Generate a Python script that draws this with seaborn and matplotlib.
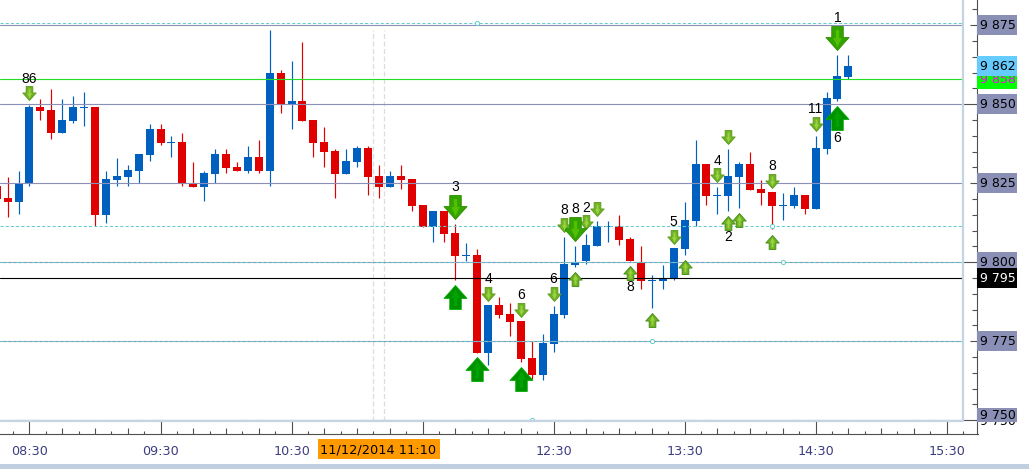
import numpy as np
import pandas as pd
import matplotlib
matplotlib.use("Agg")
import matplotlib.pyplot as plt
import matplotlib.transforms as mtransforms
from matplotlib.patches import Rectangle
from matplotlib.path import Path
import seaborn as sns

# 5 minute candles, index 0 = 08:30
first_index = -3
opens = [9824.1, 9820.3, 9819.1, 9825.1, 9849.1, 9848.2, 9840.9, 9844.7, 9848.8, 9849.1,
         9815.0, 9826.0, 9827.0, 9828.9, 9834.0, 9842.2, 9837.7, 9838.1, 9824.8, 9823.8,
         9827.9, 9834.3, 9830.2, 9828.9, 9833.3, 9828.9, 9859.9, 9850.1, 9851.0, 9845.0,
         9838.1, 9835.2, 9827.9, 9831.7, 9836.2, 9827.3, 9823.8, 9827.3, 9826.4, 9818.1,
         9811.2, 9816.2, 9809.3, 9802.0, 9802.3, 9771.3, 9786.5, 9783.6, 9781.4, 9769.7,
         9764.3, 9774.1, 9783.3, 9799.1, 9800.4, 9805.2, 9811.2, 9811.5, 9807.4, 9800.1,
         9794.1, 9794.1, 9795.0, 9804.2, 9813.1, 9831.1, 9821.0, 9821.0, 9827.0, 9831.1,
         9823.2, 9822.2, 9817.8, 9817.8, 9821.3, 9816.9, 9835.8, 9851.7, 9858.6]
highs = [9826.0, 9827.0, 9828.9, 9849.8, 9851.7, 9854.8, 9851.7, 9852.6, 9853.9, 9849.1,
         9828.9, 9833.0, 9830.8, 9834.3, 9843.8, 9843.8, 9840.0, 9840.9, 9831.7, 9828.9,
         9835.8, 9835.8, 9831.7, 9836.8, 9838.7, 9873.5, 9860.8, 9863.7, 9869.7, 9845.0,
         9842.8, 9835.8, 9835.8, 9836.8, 9836.8, 9830.8, 9828.9, 9830.8, 9826.4, 9818.1,
         9816.2, 9816.2, 9812.1, 9806.1, 9804.2, 9786.5, 9789.0, 9787.1, 9781.4, 9775.1,
         9777.3, 9786.2, 9808.0, 9805.2, 9808.9, 9813.1, 9813.1, 9815.0, 9808.0, 9805.2,
         9796.0, 9799.1, 9804.5, 9819.1, 9838.7, 9831.1, 9823.8, 9835.8, 9831.7, 9834.9,
         9826.0, 9822.2, 9821.9, 9823.8, 9821.3, 9840.0, 9853.9, 9865.6, 9865.6]
lows = [9817.6, 9814.3, 9815.3, 9824.1, 9845.0, 9839.0, 9840.9, 9844.1, 9843.1, 9811.5,
        9812.4, 9824.1, 9824.1, 9825.1, 9832.0, 9837.1, 9833.3, 9824.1, 9823.8, 9819.4,
        9825.1, 9828.3, 9828.9, 9828.3, 9828.3, 9824.1, 9847.2, 9842.2, 9844.7, 9833.3,
        9830.2, 9820.3, 9827.9, 9830.2, 9821.3, 9820.3, 9823.8, 9823.2, 9816.2, 9811.2,
        9806.4, 9806.4, 9794.4, 9800.4, 9771.3, 9767.5, 9782.4, 9776.7, 9768.4, 9763.1,
        9762.7, 9771.6, 9782.4, 9798.5, 9799.5, 9805.2, 9806.4, 9805.5, 9800.4, 9791.5,
        9785.5, 9791.5, 9794.4, 9802.3, 9811.5, 9818.1, 9815.3, 9816.2, 9817.2, 9822.9,
        9818.1, 9810.5, 9813.4, 9817.2, 9815.3, 9816.9, 9834.3, 9851.0, 9858.0]
closes = [9820.0, 9819.1, 9824.9, 9849.1, 9847.9, 9840.9, 9845.0, 9849.1, 9849.1, 9815.0,
          9826.4, 9827.3, 9829.2, 9834.3, 9842.2, 9837.7, 9838.1, 9825.1, 9823.8, 9828.3,
          9834.3, 9829.8, 9828.9, 9833.3, 9828.9, 9859.9, 9850.1, 9851.0, 9844.7, 9837.7,
          9834.9, 9827.9, 9832.0, 9836.2, 9827.0, 9823.8, 9827.3, 9826.0, 9817.8, 9811.2,
          9816.2, 9808.9, 9802.0, 9802.3, 9771.3, 9786.5, 9783.3, 9781.1, 9769.4, 9764.3,
          9774.5, 9783.6, 9799.5, 9800.1, 9805.5, 9811.5, 9811.5, 9807.1, 9800.4, 9794.1,
          9794.4, 9795.0, 9804.5, 9813.4, 9831.1, 9821.0, 9821.3, 9827.3, 9831.1, 9822.9,
          9821.9, 9817.8, 9818.1, 9821.3, 9816.9, 9836.2, 9852.0, 9859.0, 9862.1]

# signal arrows
small_down_idx = [0, 42, 45, 48, 49, 51, 52, 59, 63, 64, 68, 72]
small_down_price = [9853.6, 9790.0, 9784.9, 9790.0, 9811.8, 9812.7, 9816.9, 9808.0, 9827.6, 9839.6, 9825.7, 9843.8]
small_up_idx = [50, 55, 57, 60, 64, 65, 68]
small_up_price = [9794.7, 9796.6, 9781.7, 9798.5, 9812.4, 9813.4, 9806.4]
big_down_idx = [39, 50, 74]
big_down_price = [9817.5, 9810.5, 9871.0]
big_up_idx = [39, 41, 45, 74]
big_up_price = [9789.0, 9766.2, 9763.1, 9845.7]

# counts written next to the arrows
note_idx = [0, 39, 42, 45, 48, 49, 50, 51, 59, 55, 63, 64, 68, 72, 74, 74]
note_price = [9858.0, 9823.8, 9794.7, 9789.6, 9794.6, 9816.4, 9816.8, 9817.3, 9812.7, 9792.1,
              9832.1, 9807.9, 9830.4, 9848.4, 9839.4, 9877.2]
note_text = ["86", "3", "4", "6", "6", "8", "8", "2", "5", "8", "4", "2", "8", "11", "6", "1"]

# levels
grid_levels = [9875, 9850, 9825, 9800, 9775, 9750]
dashed_levels = [9875.8, 9811.4, 9800.2, 9775.2, 9750.2]
dot_idx = [41, 68, 69, 57, 46]
dot_price = [9875.8, 9811.4, 9800.2, 9775.2, 9750.2]
bid_level = 9858
last_level = 9795
cursor_idx = [31.5, 32.5]

hour_ticks = [0, 12, 24, 36, 48, 60, 72, 84]
hour_labels = ["08:30", "09:30", "10:30", "11:30", "12:30", "13:30", "14:30", "15:30"]
hidden_hour = "11:30"
cursor_label = "11/12/2014 11:10"

box_labels = ["9 875", "9 858", "9 862", "9 850", "9 825", "9 800", "9 795", "9 775"]
box_prices = [9875, 9858, 9862, 9850, 9825, 9800, 9795, 9775]
box_faces = ["#8a8fb6", "#00ff00", "#66ccff", "#8a8fb6", "#8a8fb6", "#8a8fb6", "#000000", "#8a8fb6"]
box_texts = ["#000000", "#ff00ff", "#000000", "#000000", "#000000", "#000000", "#ffffff", "#000000"]

BLUE = "#0060c0"
RED = "#e00000"
GRID = "#8a90b8"
TEAL = "#66cccc"
FRAME = "#c6d3e2"
AXIS = "#505050"

sns.set_style("white")
plt.rcParams["font.family"] = ["DejaVu Sans"]

df = pd.DataFrame({"open": opens, "high": highs, "low": lows, "close": closes})
df["i"] = np.arange(len(df)) + first_index
df["up"] = df["close"] >= df["open"]
df["bottom"] = df[["open", "close"]].min(axis=1)
# doji still needs a visible one pixel body
df["body"] = (df["close"] - df["open"]).abs().clip(lower=0.3)

fig = plt.figure(figsize=(10.29, 4.69), dpi=100, facecolor="white")
ax = fig.add_axes([0, 48 / 469, 963 / 1029, 421 / 469])

# vertical cursor lines sit behind everything
for c in cursor_idx:
    ax.axvline(c, ymin=0, ymax=391 / 421, color="#dddddd", lw=0.9, ls=(0, (4, 2)), zorder=1)

# candles
ax.vlines(df["i"], df["low"], df["high"], colors=np.where(df["up"], BLUE, RED), lw=0.85, zorder=2)
for is_up, col in [(True, BLUE), (False, RED)]:
    sub = df[df["up"] == is_up]
    sns.barplot(x=sub["i"].values, y=sub["body"].values, bottom=sub["bottom"].values, color=col,
                saturation=1, native_scale=True, errorbar=None, width=8 / 10.92, linewidth=0,
                ax=ax, zorder=3)

# levels on top of candles
for lv in grid_levels:
    ax.axhline(lv, color=GRID, lw=0.8, zorder=4)
ax.axhline(bid_level, color="#22dd22", lw=0.8, zorder=4)
ax.axhline(last_level, color="black", lw=0.8, zorder=4)
for lv in dashed_levels:
    ax.axhline(lv, color=TEAL, lw=0.75, ls=(0, (3, 2)), zorder=4)
ax.scatter(dot_idx, dot_price, s=9, facecolors="white", edgecolors=TEAL, linewidths=0.7, zorder=4)


def arrow_path(head_w, shaft_w, neck, up=False):
    verts = [(-shaft_w, 1), (shaft_w, 1), (shaft_w, neck), (head_w, neck), (0, -1),
             (-head_w, neck), (-shaft_w, neck), (-shaft_w, 1)]
    verts = np.array(verts, dtype=float)
    if up:
        verts[:, 1] *= -1
    return Path(verts, closed=True)


def draw_arrows(idx, price, height_px, up, face, edge, light):
    s = (height_px * 0.72) ** 2
    sns.scatterplot(x=idx, y=price, marker=arrow_path(0.96, 0.48, 0.08, up), s=s, color=face,
                    edgecolor=edge, linewidth=0.6, ax=ax, zorder=5, legend=False)
    # lighter stripe down the middle of the arrow
    stripe = arrow_path(0.5, 0.2, 0.05, up)
    sns.scatterplot(x=idx, y=price, marker=stripe, s=s * 0.5, color=light, linewidth=0,
                    ax=ax, zorder=6, legend=False)


draw_arrows(small_down_idx, small_down_price, 14, False, "#6fb024", "#5b9a1c", "#98d43e")
draw_arrows(small_up_idx, small_up_price, 14, True, "#6fb024", "#3f8a14", "#98d43e")
draw_arrows(big_down_idx, big_down_price, 24, False, "#33a300", "#2c8c00", "#50c000")
draw_arrows(big_up_idx, big_up_price, 24, True, "#009000", "#00b000", "#00a400")

for i, p, t in zip(note_idx, note_price, note_text):
    ax.text(i, p, t, ha="center", va="center", color="black", fontsize=10,
            family="Liberation Sans", zorder=7)

ax.set_xlim(-29.5 / 10.92, (963 - 29.5) / 10.92)
ax.set_ylim(9883 - 421 / 3.16, 9883)

# frame of the plot area
ax.plot([0, 1, 1], [0, 0, 1], transform=ax.transAxes, color=FRAME, lw=1.6, clip_on=False, zorder=8)

# time axis, moved down under the frame
for side in ["top", "left"]:
    ax.spines[side].set_visible(False)
ax.spines["bottom"].set_position(("outward", 13 * 0.72))
ax.spines["right"].set_position(("outward", 14.5 * 0.72))
ax.spines["bottom"].set_bounds(-29.5 / 10.92, (978 - 29.5) / 10.92)
ax.spines["right"].set_bounds(9883 - 434 / 3.16, 9883)
for side in ["bottom", "right"]:
    ax.spines[side].set_color(AXIS)
    ax.spines[side].set_linewidth(0.8)
    ax.spines[side].set_visible(True)

minor_x = [i * 1.5 for i in range(-1, 58) if i % 8 != 0]
ax.set_xticks(hour_ticks)
ax.set_xticklabels([("" if h == hidden_hour else h) for h in hour_labels])
ax.set_xticks(minor_x, minor=True)
ax.set_xlabel("")
ax.set_ylabel("")
ax.tick_params(axis="x", which="both", direction="in", bottom=True, color=AXIS, width=0.8, pad=8.2,
               labelsize=9.2, labelcolor="#3c3c80")
for t in ax.xaxis.get_major_ticks():
    t.tick1line.set_markersize(13 * 0.72)
for t, x in zip(ax.xaxis.get_minor_ticks(), minor_x):
    t.tick1line.set_markersize((6 if x % 3 == 0 else 3) * 0.72)

# price axis: 5 point ticks, longer on 25 and 50
ax.yaxis.tick_right()
y_ticks = list(range(9750, 9885, 5))
ax.set_yticks(y_ticks)
ax.set_yticklabels([])
ax.tick_params(axis="y", which="major", direction="in", right=True, left=False, color=AXIS, width=0.8)
for t, v in zip(ax.yaxis.get_major_ticks(), y_ticks):
    length = 14 if v % 50 == 0 else (7 if v % 25 == 0 else 5)
    t.tick2line.set_markersize(length * 0.72)

# price boxes
trans = mtransforms.blended_transform_factory(ax.transAxes, ax.transData)
box_x = 977.5 / 963
box_w = 39.5 / 963
half = 10 / 3.16
z = 10
ax.text(979.7 / 963, 9749.7, "9 750", transform=trans, ha="left", va="center", fontsize=9, color="black", zorder=z)
ax.add_patch(Rectangle((box_x, 9883 - 422 / 3.16), box_w, 14 / 3.16, transform=trans, fc="#8a8fb6", ec="none",
                       clip_on=False, zorder=z + 1))
ax.text(979.7 / 963, 9883 - 415.5 / 3.16, "9 750", transform=trans, ha="left", va="center", fontsize=9,
        color="black", zorder=z + 1)
z += 2
for lab, p, face, tc in zip(box_labels, box_prices, box_faces, box_texts):
    ax.add_patch(Rectangle((box_x, p - half), box_w, 2 * half, transform=trans, fc=face, ec="none",
                           clip_on=False, zorder=z))
    ax.text(979.7 / 963, p, lab, transform=trans, ha="left", va="center", fontsize=9, color=tc, zorder=z)
    z += 1

# cursor time label and the strip at the bottom of the window
fig.add_artist(Rectangle((318 / 1029, 1 - 459 / 469), 122 / 1029, 20 / 469, transform=fig.transFigure,
                         fc="#ff9900", ec="none"))
fig.text(320 / 1029, 1 - 449.5 / 469, cursor_label, ha="left", va="center", fontsize=9.3, color="black")
fig.add_artist(Rectangle((0, 0), 1, 5 / 469, transform=fig.transFigure, fc="#c0cfe0", ec="none"))

fig.savefig("out.png", dpi=100)
